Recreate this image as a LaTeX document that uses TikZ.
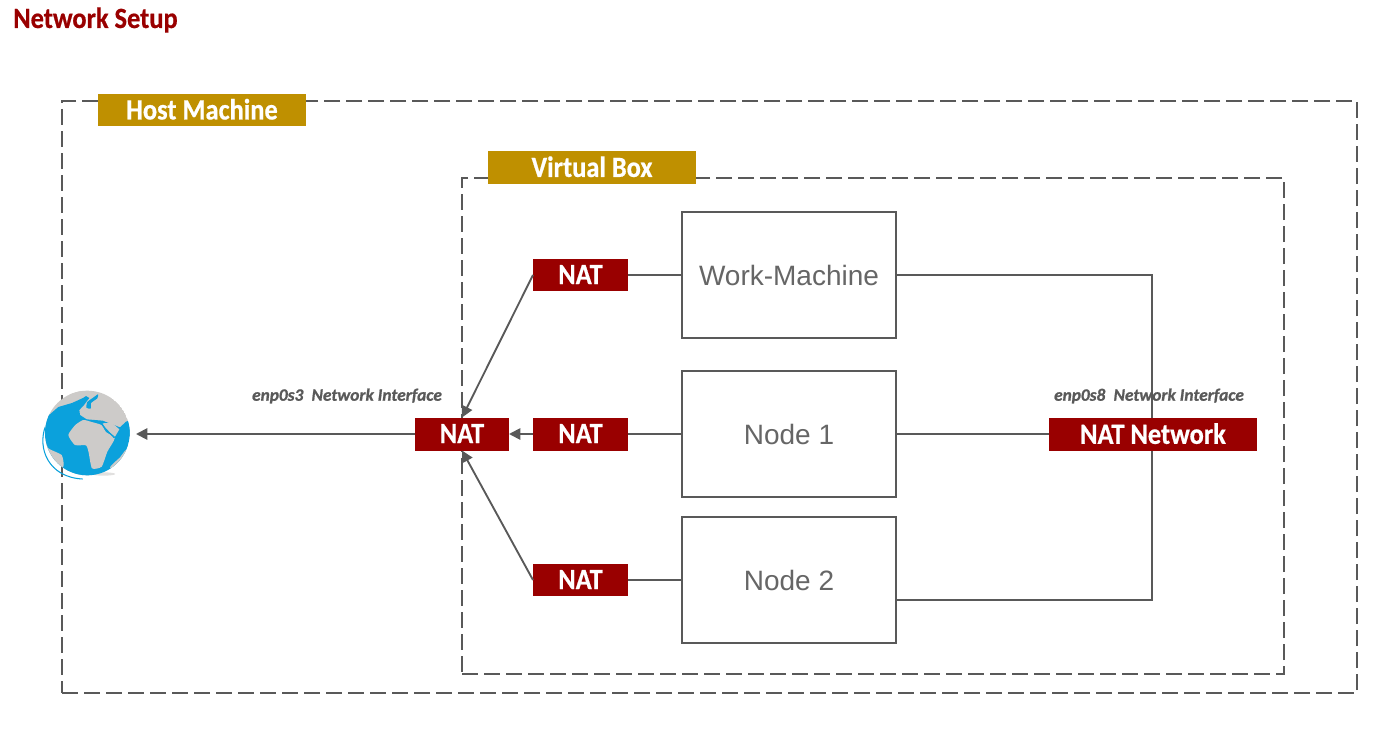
\documentclass[tikz,border=0pt]{standalone}
\usepackage{fontspec}
\setmainfont{Carlito}
\newfontfamily\condf[FakeStretch=0.9,FakeBold=0.6]{Carlito Bold}
\newfontfamily\slantf[FakeStretch=1.0,FakeBold=1.0]{Carlito Bold Italic}
\newfontfamily\arialf{Liberation Sans}
\usetikzlibrary{arrows.meta}
\definecolor{lineg}{HTML}{595959}
\definecolor{darkred}{HTML}{990000}
\definecolor{goldb}{HTML}{BF9000}
\definecolor{globeb}{HTML}{0BA1DC}
\definecolor{landg}{HTML}{CDCBC9}
\tikzset{
 x=0.75pt,y=-0.75pt,
 conn/.style={draw=lineg,line width=1.4pt},
 arr/.style={conn,-{Triangle[length=8.5pt,width=8.5pt]}},
 dashbox/.style={draw=lineg,line width=1.5pt,dash pattern=on 12pt off 4.5pt,inner sep=0,outer sep=0,anchor=north west},
 sysbox/.style={draw=lineg,line width=1.3pt,fill=white,inner sep=0,outer sep=0,anchor=north west,font=\arialf\fontsize{21}{24}\selectfont,text=lineg!92!white},
 redbox/.style={fill=darkred,text=white,inner sep=0,outer sep=0,font=\condf\fontsize{22}{24}\selectfont},
 goldbox/.style={fill=goldb,text=white,inner sep=0,outer sep=0,font=\condf\fontsize{22}{24}\selectfont},
 iface/.style={text=lineg,inner sep=0,font=\slantf\fontsize{13}{14}\selectfont},
}
\newcommand{\sizedbox}[6]{\node[#1,minimum width=#4*0.75pt,minimum height=#5*0.75pt] (#2) at (#3) {#6};}
\begin{document}
\begin{tikzpicture}
\useasboundingbox (0,0) rectangle (1397,749);
\node[anchor=west,inner sep=0,text=darkred,font=\condf\fontsize{22}{24}\selectfont] (title) at (13,20) {Network Setup};
% dashed containers
\sizedbox{dashbox}{host}{62,101}{1295}{592}{}
\sizedbox{goldbox}{hostl}{202,110}{208}{32}{\raisebox{1.3pt}{Host Machine}}
\sizedbox{dashbox}{vbox}{462,178}{822}{496}{}
\sizedbox{goldbox}{vboxl}{592,167.5}{208}{33}{\raisebox{1.3pt}{Virtual Box}}
% machines
\sizedbox{sysbox}{wm}{682,212}{214}{126}{Work-Machine}
\sizedbox{sysbox}{n1}{682,371}{214}{126}{Node 1}
\sizedbox{sysbox}{n2}{682,517}{214}{126}{Node 2}
% NAT
\sizedbox{redbox}{natw}{580.5,275}{95}{32}{\raisebox{0.7pt}{NAT}}
\sizedbox{redbox}{natn}{580.5,434}{95}{33}{\raisebox{0.7pt}{NAT}}
\sizedbox{redbox}{natt}{580.5,580}{95}{32}{\raisebox{0.7pt}{NAT}}
\sizedbox{redbox}{natc}{462,434}{94}{33}{\raisebox{0.7pt}{NAT}}
\coordinate (busa) at (1152,275);
\coordinate (busb) at (1152,600);
\coordinate (n2r) at (896,600);
% globe
\coordinate (globe) at (136,434);
\begin{scope}[shift={(20,370)},x=0.25pt,y=-0.25pt]
 \fill[landg!60!white] (250,312) ellipse (36 and 5);
 \draw[globeb,line width=0.8pt] (76,170) .. controls (52,235) and (85,322) .. (188,327);
 \begin{scope}
  \clip (202,189) circle (127);
  \fill[landg] (202,189) circle (127);
  \fill[globeb] (70,150) -- (115,111) -- (156,99) -- (189,84) -- (198,78) -- (208,84) -- (192,105) -- (178,120) -- (180,135) -- (200,148) -- (248,152) -- (300,172) -- (318,155) -- (335,150) -- (335,340) -- (60,340) -- (60,195) -- cycle;
  \fill[landg] plot[smooth cycle,tension=0.35] coordinates {(166,165)(145,195)(165,225)(198,226)(206,248)(216,295)(245,290)(262,245)(284,205)(258,186)(244,165)(215,156)(190,150)};
  \fill[landg] (248,160) -- (275,158) -- (298,178) -- (285,200) -- (258,178) -- cycle;
  \fill[globeb] (245,164) -- (247,163) -- (283,202) -- (281,204) -- cycle;
  \fill[landg] plot[smooth cycle,tension=0.3] coordinates {(70,200)(85,235)(125,255)(130,290)(85,300)(60,250)};
  \fill[landg] plot[smooth cycle,tension=0.3] coordinates {(270,292)(300,262)(318,240)(335,260)(300,310)};
  \fill[globeb] plot[smooth cycle,tension=0.3] coordinates {(202,96)(218,84)(234,73)(232,85)(213,99)(212,116)(199,113)};
  \fill[landg] (150,72) -- (186,62) -- (160,88) -- (135,92) -- cycle;
  \fill[globeb] (316,158) -- (330,150) -- (330,200) -- (320,195) -- cycle;
 \end{scope}
\end{scope}
% connectors
\draw[conn] (wm.east) -- (busa) -- (busb) -- (n2r);
\sizedbox{redbox}{natnet}{1153,434}{208}{33}{\raisebox{0.7pt}{NAT Network}}
\draw[conn] (n1.east) -- (natnet.west);
\draw[conn] (natw.east) -- (wm.west);
\draw[conn] (natt.east) -- (n2.west);
\draw[conn] (n1.west) -- (natn.east);
\draw[arr] (natn.west) -- (natc.east);
\draw[arr] (natw.west) -- (natc.north);
\draw[arr] (natt.west) -- (natc.south);
\draw[arr] (natc.west) -- (globe);
\node[iface,anchor=center] (if3) at (347,396) {enp0s3\hspace{0.25em} Network Interface};
\node[iface,anchor=center] (if8) at (1149,396) {enp0s8\hspace{0.25em} Network Interface};
\end{tikzpicture}
\end{document}
